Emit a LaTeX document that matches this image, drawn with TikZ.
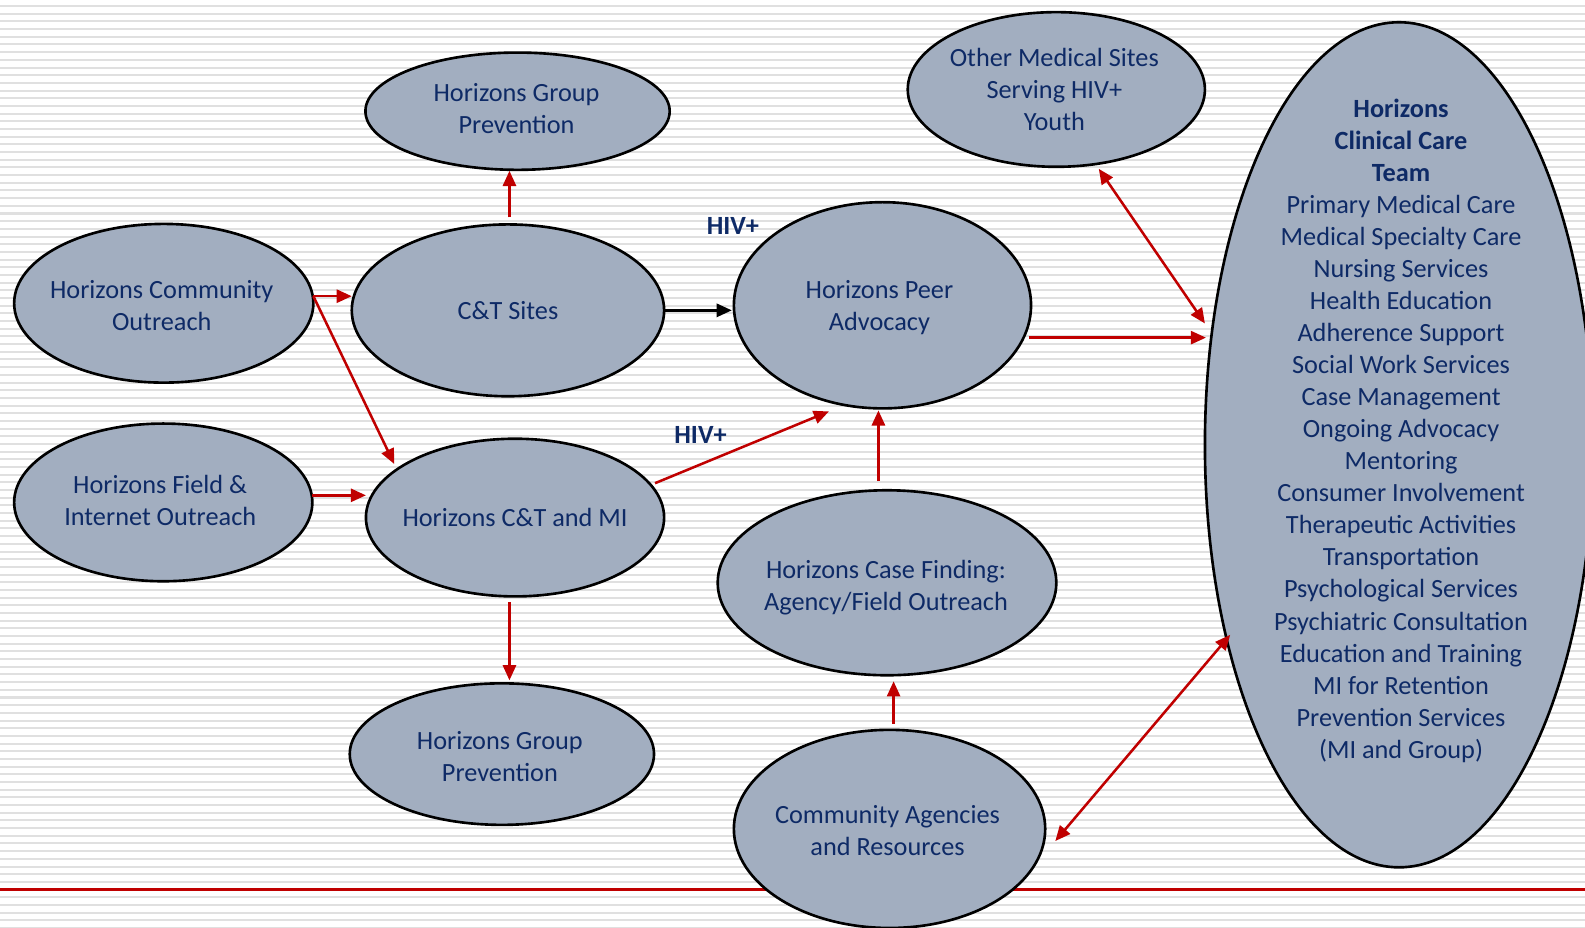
\documentclass[tikz,border=0pt]{standalone}
\usepackage{fontspec}
\setmainfont{Carlito}
\usetikzlibrary{arrows.meta,calc,shapes.geometric}
\definecolor{navy}{HTML}{0E2A66}
\definecolor{efill}{HTML}{A2AEC0}
\definecolor{dred}{HTML}{C00000}
\definecolor{stripecol}{HTML}{E0E0E0}
\tikzset{
 ell/.style={ellipse, draw=black, line width=1.3pt, fill=efill, inner sep=0pt},
 txt/.style={text=navy, align=center, font=\fontsize{13}{15.85}\selectfont, inner sep=0pt},
 hiv/.style={text=navy, font=\fontsize{13}{15.85}\selectfont\bfseries, inner sep=0pt},
 ra/.style={draw=dred, line width=1.25pt, -{Triangle[length=7.5pt,width=6.5pt]}},
 rb/.style={draw=dred, line width=1.25pt, {Triangle[length=7.5pt,width=6.5pt]}-{Triangle[length=7.5pt,width=6.5pt]}},
 ba/.style={draw=black, line width=1.25pt, -{Triangle[length=7.5pt,width=6.5pt]}},
 stripeline/.style={draw=stripecol, line width=1pt},
}
\begin{document}
\begin{tikzpicture}[x=0.5pt,y=-0.5pt]
\useasboundingbox (0,0) rectangle (1568,918);
\fill[white] (0,0) rectangle (1568,918);
\foreach \i in {0,...,120} \draw[stripeline] (0,{6+7.6*\i}) -- (1568,{6+7.6*\i});
\draw[dred, line width=1.5pt] (0,880) -- (1568,880);

% ellipses
\node[ell, minimum width=150.5pt, minimum height=58pt] (gpt) at (512,110) {};
\node[ell, minimum width=148pt, minimum height=78.5pt] (co) at (162,300) {};
\node[ell, minimum width=154.5pt, minimum height=85pt] (cts) at (502.5,307) {};
\node[ell, minimum width=147.5pt, minimum height=78pt] (fo) at (161.5,497) {};
\node[ell, minimum width=147.5pt, minimum height=78pt] (ctmi) at (509.5,512) {};
\node[ell, minimum width=150.5pt, minimum height=70pt] (gpb) at (496.5,746) {};
\node[ell, minimum width=147pt, minimum height=102pt] (peer) at (873,302) {};
\node[ell, minimum width=147pt, minimum height=76.5pt] (om) at (1045,88.5) {};
\node[ell, minimum width=167.5pt, minimum height=91.5pt] (cf) at (877.5,576.5) {};
\node[ell, minimum width=154pt, minimum height=98pt] (ca) at (880,820) {};
\node[ell, minimum width=192pt, minimum height=418pt] (cl) at (1384,440) {};

% texts
\node[txt] (gpt-t) at ($(gpt)+(-1,-3)$) {Horizons Group\\Prevention};
\node[txt] (co-t) at ($(co)+(-2,2)$) {Horizons Community\\Outreach};
\node[txt] (cts-t) at (cts) {C\&T Sites};
\node[txt] (fo-t) at ($(fo)+(-3,-1.5)$) {Horizons Field \&\\Internet Outreach};
\node[txt] (ctmi-t) at (ctmi) {Horizons C\&T and MI};
\node[txt] (gpb-t) at ($(gpb)+(-2,2)$) {Horizons Group\\Prevention};
\node[txt] (peer-t) at ($(peer)+(-3,2)$) {Horizons Peer\\Advocacy};
\node[txt] (om-t) at ($(om)+(-2,0)$) {Other Medical Sites\\Serving HIV+\\Youth};
\node[txt] (cf-t) at ($(cf)+(-1,5)$) {Horizons Case Finding:\\Agency/Field Outreach};
\node[txt] (ca-t) at ($(ca)+(-2,2)$) {Community Agencies\\and Resources};
\node[txt] (cl-t) at (1386,426) {\textbf{Horizons}\\\textbf{Clinical Care}\\\textbf{Team}\\Primary Medical Care\\Medical Specialty Care\\Nursing Services\\Health Education\\Adherence Support\\Social Work Services\\Case Management\\Ongoing Advocacy\\Mentoring\\Consumer Involvement\\Therapeutic Activities\\Transportation\\Psychological Services\\Psychiatric Consultation\\Education and Training\\MI for Retention\\Prevention Services\\(MI and Group)};
\node[hiv] (hiv1) at (725,224) {HIV+};
\node[hiv] (hiv2) at (693,430) {HIV+};

% connectors
\draw[ra] ($(co.center)+(148,-7)$) -- ($(cts.center)+(-154.5,-14)$);
\draw[ra] ($(co.center)+(148,-7)$) -- ($(ctmi.center)+(-119.5,-53)$);
\draw[ra] ($(fo.center)+(147.5,-7)$) -- ($(ctmi.center)+(-147.5,-22)$);
\draw[ra] ($(cts.center)+(1.5,-92)$) -- ($(gpt.center)+(-8,59)$);
\draw[ra] ($(ctmi.center)+(-5.5,84)$) -- ($(gpb.center)+(7.5,-73)$);
\draw[ba] (cts.east) -- ($(peer.center)+(-149,5)$);
\draw[ra] ($(ctmi.center)+(138.5,-34)$) -- ($(peer.center)+(-53,105)$);
\draw[ra] ($(cf.center)+(-8.5,-100.5)$) -- ($(peer.center)+(-4,104)$);
\draw[ra] ($(ca.center)+(4,-104)$) -- ($(cf.center)+(6.5,97.5)$);
\draw[ra] ($(peer.center)+(145,32)$) -- ($(cl.center)+(-191,-106)$);
\draw[rb] ($(om.center)+(42,78.5)$) -- ($(cl.center)+(-192,-120)$);
\draw[rb] ($(ca.center)+(164,12)$) -- ($(cl.center)+(-167,188)$);
\end{tikzpicture}
\end{document}
